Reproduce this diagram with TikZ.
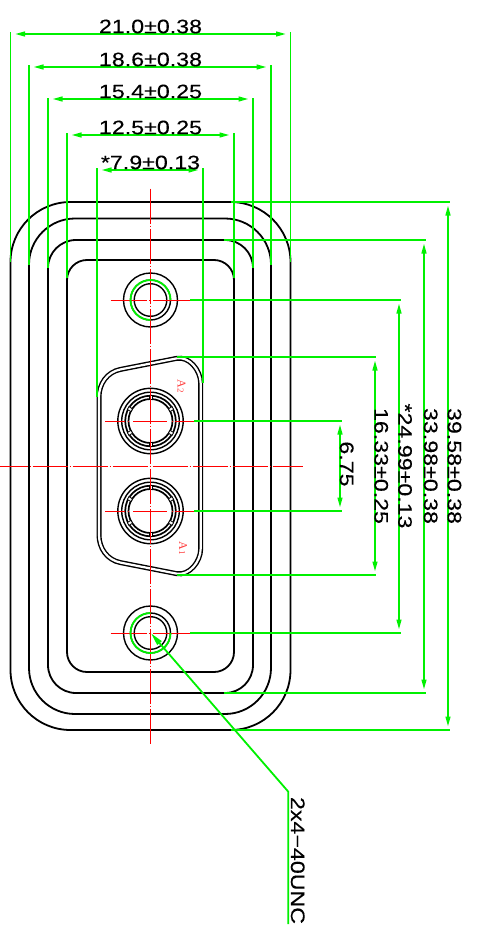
\documentclass[tikz,border=0pt]{standalone}
\usepackage{fontspec}
\setmainfont{Liberation Serif}
\newfontfamily\dimfont[FakeStretch=1.19,FakeBold=0.25]{Liberation Sans}
\usetikzlibrary{arrows.meta}
\definecolor{dimgreen}{RGB}{0,240,0}
\definecolor{cadred}{RGB}{255,0,0}
\tikzset{
  body/.style={draw=black,line width=1.8pt},
  ring/.style={draw=black,line width=1.4pt},
  thickring/.style={draw=black,line width=1.7pt},
  ext/.style={draw=dimgreen,line width=1.8pt},
  dimarrow/.style={draw=dimgreen,line width=1.8pt,{Triangle[length=10pt,width=4.8pt]}-{Triangle[length=10pt,width=4.8pt]}},
  leader/.style={draw=dimgreen,line width=1.8pt,{Triangle[length=13pt,width=5.5pt]}-},
  centre/.style={draw=cadred,line width=1pt,dash pattern=on 35 off 2 on 1 off 2},
  hubcentre/.style={draw=cadred,line width=1pt,dash pattern=on 36 off 2.8 on 1 off 3 on 40},
  pincentre/.style={draw=cadred,line width=1pt,dash pattern=on 20 off 2.5 on 1 off 4.5 on 34 off 4.5 on 1 off 2.5 on 20},
  dimtext/.style={font=\dimfont\fontsize{19.5pt}{20pt}\selectfont,inner sep=0pt,text=black},
  pinlabel/.style={text=cadred!75,rotate=-90,inner sep=0pt,font=\fontsize{12pt}{12pt}\selectfont},
}
\begin{document}
\begin{tikzpicture}[x=1pt,y=-1pt]
\useasboundingbox (0,0) rectangle (478,934);

% ---- shells
\draw[body,rounded corners=60pt] (10.5,202) rectangle (290.5,730);
\draw[body,rounded corners=46pt] (29,218.5) rectangle (271,714);
\draw[body,rounded corners=28pt] (48,240) rectangle (253,693);
\draw[body,rounded corners=20pt] (67,260) rectangle (234,672);

% ---- D-shell (double outline)
\draw[draw=black,line width=1.4pt,double=white,double distance=2.2pt]
  (176.5,358.4) .. controls (189,356) and (200.7,370) .. (200.7,383.5)
  -- (200.7,548.5) .. controls (200.7,562) and (189,576) .. (176.5,573.6)
  -- (120.5,562.6) .. controls (107,560) and (99,548) .. (99,535)
  -- (99,397) .. controls (99,384) and (107,372) .. (120.5,369.4) -- cycle;

% ---- mounting screws
\foreach \cy/\nm in {300/up,633/lo}{
  \coordinate (hub\nm) at (150.5,\cy);
  \draw[ring] (hub\nm) circle[radius=27pt];
  \draw[ring] (hub\nm) circle[radius=20pt];
  \draw[ring] (hub\nm) circle[radius=16.3pt];
}

% ---- contacts
\foreach \cy/\nm in {421/a,511/b}{
  \coordinate (pin\nm) at (150.5,\cy);
  \draw[ring] (pin\nm) circle[radius=32.7pt];
  \draw[ring] (pin\nm) circle[radius=28.8pt];
  \draw[thickring] (pin\nm) circle[radius=25.3pt];
  \draw[thickring] (pin\nm) circle[radius=22pt];
  \foreach \ang in {30,90,150,210,270,330}{
    \draw[ring,line width=.8pt,fill=white,rotate around={\ang:(pin\nm)}]
      ([xshift=21.6pt,yshift=-1.6pt]pin\nm) rectangle ([xshift=25.8pt,yshift=1.6pt]pin\nm);
  }
}

% ---- centre lines
\coordinate (vtop) at (150.5,188.5);
\coordinate (vbot) at (150.5,744);
\draw[centre] (vtop) -- (vbot);
\coordinate (hleft) at (0,466);
\coordinate (hright) at (303,466);
\draw[centre,dash phase=7.5] (hleft) -- (hright);
\draw[hubcentre] (110.5,300) -- (190,300);
\draw[hubcentre] (110.5,633) -- (190,633);
\draw[pincentre] (105,421) -- (195,421);
\draw[pincentre] (105,511) -- (195,511);

% ---- horizontal dimensions
\foreach \xl/\xr/\yd/\yt/\yl/\yr/\txt in {
  10.5/290.5/34/32.5/262/262/{21.0±0.38},
  29/271/67/65/265/265/{18.6±0.38},
  48/253/99/97.5/268/268/{15.4±0.25},
  67/234/135/133/278/278/{12.5±0.25},
  97/203/170/168/397/383/{*7.9±0.13}}{
  \coordinate (tl) at (\xl,\yt);
  \coordinate (tr) at (\xr,\yt);
  \coordinate (bl) at (\xl,\yl);
  \coordinate (br) at (\xr,\yr);
  \coordinate (dl) at (\xl+4.5,\yd);
  \coordinate (dr) at (\xr-4.5,\yd);
  \draw[ext] (bl) -- (tl);
  \draw[ext] (br) -- (tr);
  \draw[dimarrow] (dl) -- (dr);
  \node[dimtext,anchor=base] at (150.5,\yd-0.8) {\txt};
}

% ---- vertical dimensions
\foreach \xs/\xe/\xd/\yt/\yb/\txt/\xt/\ym in {
  231/450/448/202/730/{39.58±0.38}/447.7/466,
  224/426/424/240/693/{33.98±0.38}/424/466,
  190/400.5/399/300/633/{*24.99±0.13}/398.3/466,
  177/376/375/357/575/{16.33±0.25}/374.5/466,
  194/341.5/340/421/511/{6.75}/340/464}{
  \coordinate (et) at (\xs,\yt);
  \coordinate (eb) at (\xs,\yb);
  \coordinate (ft) at (\xe,\yt);
  \coordinate (fb) at (\xe,\yb);
  \coordinate (dt) at (\xd,\yt+3.5);
  \coordinate (db) at (\xd,\yb-3.5);
  \draw[ext] (et) -- (ft);
  \draw[ext] (eb) -- (fb);
  \draw[dimarrow] (dt) -- (db);
  \node[dimtext,rotate=-90,anchor=base] at (\xt,\ym) {\txt};
}

% ---- thread call-out
\coordinate (tip) at (151,633.3);
\coordinate (elbow) at (288.3,791.7);
\coordinate (tail) at (288.3,924);
\draw[leader] (tip) -- (elbow) -- (tail);
\node[dimtext,rotate=-90,anchor=base] (thread) at (291,860.5) {2x4−40UNC};

% ---- green three-quarter overlays on screw rings
\draw[ext] (170.5,300) arc[start angle=0,end angle=270,radius=20pt];
\draw[ext] (150.5,613) arc[start angle=90,end angle=360,radius=20pt];

% ---- pin labels
\node[pinlabel] (aone) at (183,548.5) {A{\fontsize{9pt}{9pt}\selectfont 1}};
\node[pinlabel] (atwo) at (181.5,386) {A{\fontsize{9pt}{9pt}\selectfont 2}};
\end{tikzpicture}
\end{document}
